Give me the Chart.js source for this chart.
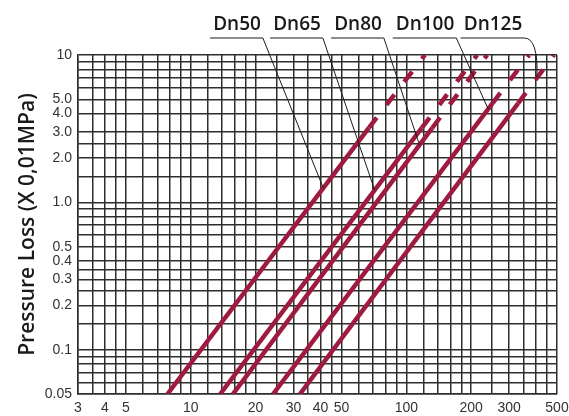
<!DOCTYPE html>
<html>
<head>
<meta charset="utf-8">
<script src="https://cdn.jsdelivr.net/npm/chart.js@4"></script>
<style>
  body { margin: 0; background: #fff; }
</style>
</head>
<body>
<canvas id="lossChart" width="569" height="416"></canvas>
<script>
// Akselit: virtaama (x) ja painehäviö (y), molemmat logaritmisia
const flowLabels = [3, 4, 5, 10, 20, 30, 40, 50, 100, 200, 300, 500];
const flowGrid = [3, 3.5, 4, 4.5, 5, 6, 7, 8, 9, 10, 12, 14, 16, 18, 20, 25, 30, 35, 40, 45, 50,
  60, 70, 80, 90, 100, 120, 140, 160, 180, 200, 250, 300, 350, 400, 450, 500];
const lossLabels = [0.05, 0.1, 0.2, 0.3, 0.4, 0.5, 1, 2, 3, 4, 5, 10];
const lossGrid = [0.05, 0.06, 0.07, 0.08, 0.09, 0.1, 0.15, 0.2, 0.25, 0.3, 0.35, 0.4, 0.5,
  0.6, 0.7, 0.8, 0.9, 1, 1.5, 2, 2.5, 3, 4, 5, 6, 7, 8, 9, 10];

// Käyrät: alku, yhtenäisen osan loppu, katkoviivan loppu
const sizes = ["Dn50", "Dn65", "Dn80", "Dn100", "Dn125"];
const dn50Flow = [7.8, 67, 122];
const dn50Loss = [0.05, 3.2, 10];
const dn65Flow = [13.7, 118, 213];
const dn65Loss = [0.05, 3.2, 10];
const dn80Flow = [15.7, 132, 237];
const dn80Loss = [0.05, 3.2, 10];
const dn100Flow = [24.1, 251, 371];
const dn100Loss = [0.05, 4.7, 10];
const dn125Flow = [32.1, 330, 484];
const dn125Loss = [0.05, 4.7, 10];

// Kohta käyrällä, johon nimiön viiva osoittaa (painehäviö)
const calloutLoss = [1.25, 1.21, 2.45, 4.3, 7];

const seriesFlow = [dn50Flow, dn65Flow, dn80Flow, dn100Flow, dn125Flow];
const seriesLoss = [dn50Loss, dn65Loss, dn80Loss, dn100Loss, dn125Loss];

// Virtaama annetulla painehäviöllä (log-log interpolointi käyrän pisteiden välillä)
const flowAt = (flow, loss, dp) => {
  for (let i = 0; i < loss.length - 1; i++) {
    if (dp >= loss[i] && dp <= loss[i + 1]) {
      const t = Math.log(dp / loss[i]) / Math.log(loss[i + 1] / loss[i]);
      return flow[i] * Math.pow(flow[i + 1] / flow[i], t);
    }
  }
  return flow[flow.length - 1];
};

const lineColor = "#9e1a40";
const gridColor = "#2e2e2e";

const datasets = sizes.map((name, i) => ({
  label: name,
  data: seriesFlow[i].map((q, j) => ({ x: q, y: seriesLoss[i][j] })),
  borderColor: lineColor,
  borderWidth: 4.5,
  pointRadius: 0,
  tension: 0,
  fill: false,
  segment: {
    borderDash: (ctx) => (ctx.p0DataIndex >= 1 ? [13, 16] : undefined),
  },
}));

// Nimiöt ja niiden ohuet osoitinviivat
const calloutPlugin = {
  id: "callouts",
  afterDatasetsDraw(chart) {
    const { ctx, scales } = chart;
    const centers = [237, 297, 358, 425, 493];
    const textY = 30;
    const lineY = 38;
    ctx.save();
    ctx.font = "600 19px 'Open Sans'";
    ctx.fillStyle = "#1a1a1a";
    ctx.textAlign = "center";
    ctx.textBaseline = "alphabetic";
    ctx.strokeStyle = "#1a1a1a";
    ctx.lineWidth = 1;
    sizes.forEach((name, i) => {
      ctx.fillText(name, centers[i], textY);
      const w = ctx.measureText(name).width;
      const x0 = centers[i] - w / 2 - 3;
      const x1 = centers[i] + w / 2 + 2;
      const dp = calloutLoss[i];
      const tx = scales.x.getPixelForValue(flowAt(seriesFlow[i], seriesLoss[i], dp));
      const ty = scales.y.getPixelForValue(dp);
      ctx.beginPath();
      ctx.moveTo(x0, lineY);
      ctx.lineTo(x1, lineY);
      if (i === sizes.length - 1) {
        ctx.quadraticCurveTo(x1 + 14, lineY, tx, ty);
      } else {
        ctx.lineTo(tx, ty);
      }
      ctx.stroke();
    });
    ctx.restore();
  },
};

const tickFont = { family: "'Liberation Sans', Arial, sans-serif", size: 14 };

new Chart(document.getElementById("lossChart"), {
  type: "line",
  data: { datasets },
  plugins: [calloutPlugin],
  options: {
    responsive: false,
    animation: false,
    layout: { padding: { top: 55, right: 12, left: 0, bottom: 0 } },
    plugins: { legend: { display: false }, tooltip: { enabled: false } },
    scales: {
      x: {
        type: "logarithmic",
        min: 3,
        max: 500,
        afterBuildTicks: (scale) => { scale.ticks = flowGrid.map((v) => ({ value: v })); },
        afterFit: (scale) => { scale.height = 22; scale.paddingLeft = 0; scale.paddingRight = 0; },
        grid: { color: gridColor, lineWidth: 1.5, drawTicks: false },
        border: { display: true, color: gridColor, width: 1.5 },
        ticks: {
          autoSkip: false,
          maxRotation: 0,
          padding: 6,
          color: "#333",
          font: tickFont,
          callback: (v) => (flowLabels.includes(v) ? String(v) : ""),
        },
      },
      y: {
        type: "logarithmic",
        min: 0.05,
        max: 10,
        afterBuildTicks: (scale) => { scale.ticks = lossGrid.map((v) => ({ value: v })); },
        afterFit: (scale) => { scale.width = 78; },
        grid: { color: gridColor, lineWidth: 1.5, drawTicks: false },
        border: { display: true, color: gridColor, width: 1.5 },
        title: {
          display: true,
          text: "Pressure Loss (X 0,01MPa)",
          color: "#1a1a1a",
          font: { family: "'Open Sans'", size: 21, weight: "600" },
          padding: { top: 15, bottom: 0 },
        },
        ticks: {
          autoSkip: false,
          padding: 6,
          color: "#333",
          font: tickFont,
          callback: (v) => {
            if (!lossLabels.includes(v)) return "";
            if (v >= 10) return String(v);
            return v < 0.1 ? v.toFixed(2) : v.toFixed(1);
          },
        },
      },
    },
  },
});
</script>
</body>
</html>
